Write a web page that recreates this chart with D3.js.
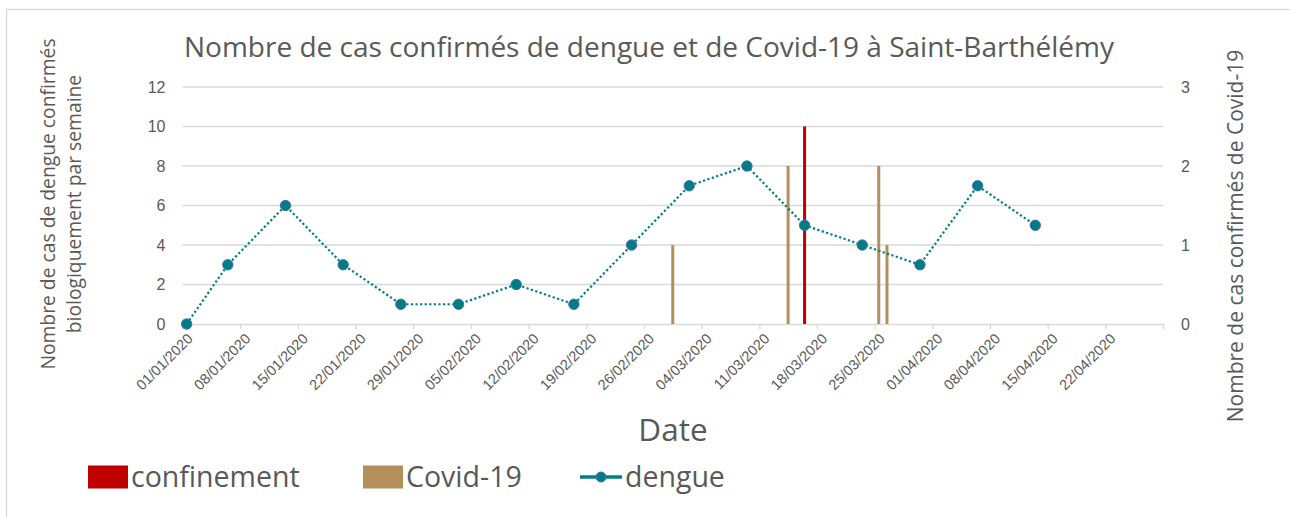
<!DOCTYPE html>
<html>
<head>
<meta charset="utf-8">
<title>Dengue et Covid-19 à Saint-Barthélémy</title>
<script src="https://cdn.jsdelivr.net/npm/d3@7"></script>
<style>
  body { margin: 0; background: #fff; }
  svg { display: block; font-family: "Open Sans", sans-serif; }
  .grid line { stroke: #d9d9d9; stroke-width: 1.3px; }
  .axis text { fill: #595959; }
  .axis .domain, .axis line { stroke: #d9d9d9; stroke-width: 1.3px; }
  .label { fill: #595959; }
</style>
</head>
<body>
<svg id="chart" width="1290" height="517"></svg>
<script>
// dengue, cas confirmés par semaine
var dengueDates = ["01/01/2020", "06/01/2020", "13/01/2020", "20/01/2020", "27/01/2020", "03/02/2020",
                   "10/02/2020", "17/02/2020", "24/02/2020", "02/03/2020", "09/03/2020", "16/03/2020",
                   "23/03/2020", "30/03/2020", "06/04/2020", "13/04/2020"];
var dengueCases = [0, 3, 6, 3, 1, 1, 2, 1, 4, 7, 8, 5, 4, 3, 7, 5];

// covid-19, cas confirmés (axe secondaire)
var covidDates = ["29/02/2020", "14/03/2020", "25/03/2020", "26/03/2020"];
var covidCases = [1, 2, 2, 1];

// début du confinement (axe secondaire)
var confinementDates = ["16/03/2020"];
var confinementValues = [2.5];

var xTickLabels = ["01/01/2020", "08/01/2020", "15/01/2020", "22/01/2020", "29/01/2020", "05/02/2020",
                   "12/02/2020", "19/02/2020", "26/02/2020", "04/03/2020", "11/03/2020", "18/03/2020",
                   "25/03/2020", "01/04/2020", "08/04/2020", "15/04/2020", "22/04/2020"];
var xEnd = "29/04/2020";
var leftTicks = [0, 2, 4, 6, 8, 10, 12];
var rightTicks = [0, 1, 2, 3];

var legendNames = ["confinement", "Covid-19", "dengue"];

var parse = d3.timeParse("%d/%m/%Y");
var svg = d3.select("#chart");

var plotLeft = 182.5, plotRight = 1163, plotTop = 87, plotBottom = 324;

var x = d3.scaleTime()
  .domain([parse(xTickLabels[0]), parse(xEnd)])
  .range([plotLeft, plotRight]);
var yLeft = d3.scaleLinear().domain([0, 12]).range([plotBottom, plotTop]);
var yRight = d3.scaleLinear().domain([0, 3]).range([plotBottom, plotTop]);

// each day is a slot, marks sit in the middle of it
function xMid(s) { return x(d3.timeHour.offset(parse(s), 12)); }

function translate(a, b) { return "translate(" + a + "," + b + ")"; }

// outer frame
svg.append("rect")
  .attr("x", 6.5).attr("y", 9.5)
  .attr("width", 1400).attr("height", 600)
  .attr("fill", "none").attr("stroke", "#d9d9d9").attr("stroke-width", 1.3);

// gridlines
svg.append("g").attr("class", "grid")
  .selectAll("line")
  .data(leftTicks.slice(1))
  .enter().append("line")
    .attr("x1", plotLeft).attr("x2", plotRight)
    .attr("y1", d => yLeft(d)).attr("y2", d => yLeft(d));

// x axis
var xTicks = xTickLabels.concat([xEnd]).map(parse);
var xAxis = d3.axisBottom(x)
  .tickValues(xTicks)
  .tickSize(5)
  .tickFormat((d, i) => i < xTickLabels.length ? xTickLabels[i] : "");
var gx = svg.append("g").attr("class", "axis")
  .attr("transform", translate(0, plotBottom))
  .call(xAxis);
gx.selectAll("text")
  .attr("font-size", 14.5)
  .attr("text-anchor", "end")
  .attr("dy", 0)
  .attr("transform", "translate(5,10) rotate(-45)");

// left axis
var gl = svg.append("g").attr("class", "axis")
  .attr("transform", translate(plotLeft, 0))
  .call(d3.axisLeft(yLeft).tickValues(leftTicks).tickSize(0).tickPadding(17));
gl.select(".domain").remove();
gl.selectAll("text").attr("font-size", 16);

// right axis
var gr = svg.append("g").attr("class", "axis")
  .attr("transform", translate(plotRight, 0))
  .call(d3.axisRight(yRight).tickValues(rightTicks).tickFormat(d3.format("d")).tickSize(0).tickPadding(18));
gr.select(".domain").remove();
gr.selectAll("text").attr("font-size", 16);

// covid bars
svg.append("g").selectAll("rect")
  .data(covidDates.map((d, i) => ({date: d, value: covidCases[i]})))
  .enter().append("rect")
    .attr("x", d => xMid(d.date) - 1.5)
    .attr("width", 3)
    .attr("y", d => yRight(d.value))
    .attr("height", d => plotBottom - yRight(d.value))
    .attr("fill", "#b38f5b");

// confinement bar
svg.append("g").selectAll("rect")
  .data(confinementDates.map((d, i) => ({date: d, value: confinementValues[i]})))
  .enter().append("rect")
    .attr("x", d => xMid(d.date) - 1.5)
    .attr("width", 3)
    .attr("y", d => yRight(d.value))
    .attr("height", d => plotBottom - yRight(d.value))
    .attr("fill", "#c00000");

// dengue line
var dengue = dengueDates.map((d, i) => ({date: d, value: dengueCases[i]}));
var line = d3.line().x(d => xMid(d.date)).y(d => yLeft(d.value));
svg.append("path")
  .datum(dengue)
  .attr("d", line)
  .attr("fill", "none")
  .attr("stroke", "#008080")
  .attr("stroke-width", 2.2)
  .attr("stroke-dasharray", "2.2,2.4");
svg.append("g").selectAll("circle")
  .data(dengue)
  .enter().append("circle")
    .attr("cx", d => xMid(d.date))
    .attr("cy", d => yLeft(d.value))
    .attr("r", 5.2)
    .attr("fill", "#007d80")
    .attr("stroke", "#4a6cc4")
    .attr("stroke-width", 1);

// titles
svg.append("text").attr("class", "label")
  .attr("x", 649).attr("y", 57)
  .attr("text-anchor", "middle")
  .attr("font-size", 28)
  .text("Nombre de cas confirmés de dengue et de Covid-19 à Saint-Barthélémy");

var yTitle = svg.append("text").attr("class", "label")
  .attr("transform", translate(55, 204) + " rotate(-90)")
  .attr("text-anchor", "middle")
  .attr("font-size", 19.3);
yTitle.append("tspan").attr("x", 0).attr("y", 0).text("Nombre de cas de dengue confirmés");
yTitle.append("tspan").attr("x", 0).attr("y", 26).text("biologiquement par semaine");

svg.append("text").attr("class", "label")
  .attr("transform", translate(1243, 236) + " rotate(-90)")
  .attr("text-anchor", "middle")
  .attr("font-size", 21)
  .text("Nombre de cas confirmés de Covid-19");

svg.append("text").attr("class", "label")
  .attr("x", 673).attr("y", 441)
  .attr("text-anchor", "middle")
  .attr("font-size", 31.5)
  .text("Date");

// legend
var legendX = [88, 363, 580];
var legend = svg.append("g").selectAll("g")
  .data(legendNames)
  .enter().append("g")
    .attr("transform", (d, i) => translate(legendX[i], 477));
legend.filter((d, i) => i < 2).append("rect")
  .attr("x", 0).attr("y", -11.5)
  .attr("width", 40).attr("height", 23)
  .attr("fill", (d, i) => i == 0 ? "#c00000" : "#b38f5b");
var lg = legend.filter((d, i) => i == 2);
lg.append("line")
  .attr("x1", 0).attr("x2", 42)
  .attr("stroke", "#008080").attr("stroke-width", 3.5);
lg.append("circle")
  .attr("cx", 21).attr("r", 5)
  .attr("fill", "#007d80").attr("stroke", "#4a6cc4");
legend.append("text").attr("class", "label")
  .attr("x", (d, i) => i == 2 ? 45 : 43)
  .attr("y", 10)
  .attr("font-size", 28.5)
  .text(d => d);
</script>
</body>
</html>
